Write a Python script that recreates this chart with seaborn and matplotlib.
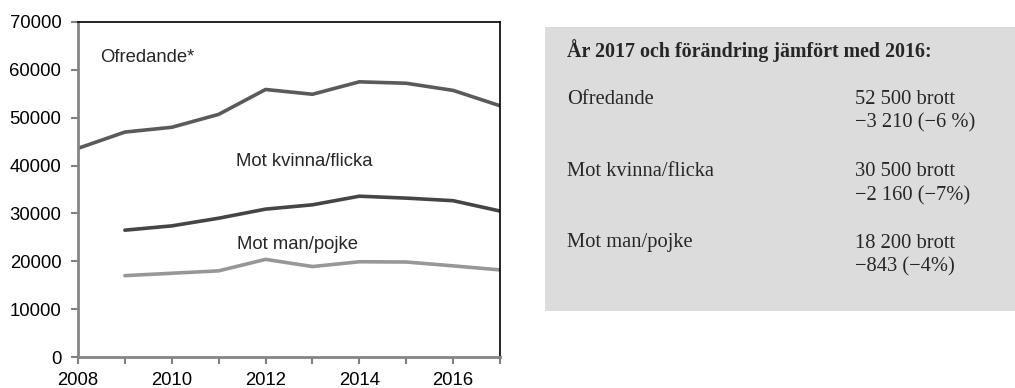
import matplotlib
matplotlib.use("Agg")
import matplotlib.pyplot as plt
from matplotlib.patches import Rectangle
import seaborn as sns
import pandas as pd

# Reported offences per year
years_all = [2008, 2009, 2010, 2011, 2012, 2013, 2014, 2015, 2016, 2017]
ofredande = [43600, 47000, 48000, 50700, 55900, 54900, 57500, 57200, 55710, 52500]

years_split = [2009, 2010, 2011, 2012, 2013, 2014, 2015, 2016, 2017]
mot_kvinna = [26500, 27400, 29000, 30900, 31800, 33600, 33200, 32660, 30500]
mot_man = [17000, 17500, 18000, 20400, 18900, 19900, 19850, 19043, 18200]

series_labels = ["Ofredande*", "Mot kvinna/flicka", "Mot man/pojke"]

# Summary panel text
summary_title = "År 2017 och förändring jämfört med 2016:"
summary_names = ["Ofredande", "Mot kvinna/flicka", "Mot man/pojke"]
summary_counts = ["52 500 brott", "30 500 brott", "18 200 brott"]
summary_changes = ["\u22123 210 (\u22126 %)", "\u22122 160 (\u22127%)", "\u2212843 (\u22124%)"]

sns.set_theme(style="white")
plt.rcParams["font.family"] = ["Liberation Sans", "DejaVu Sans"]

fig = plt.figure(figsize=(10.15, 3.88), dpi=100)
ax = fig.add_axes([78 / 1015, 1 - 357 / 388, 422 / 1015, 335 / 388])

df_o = pd.DataFrame({"year": years_all, "value": ofredande})
df_k = pd.DataFrame({"year": years_split, "value": mot_kvinna})
df_m = pd.DataFrame({"year": years_split, "value": mot_man})

sns.lineplot(data=df_o, x="year", y="value", ax=ax, color="#5a5a5a", linewidth=2.6)
sns.lineplot(data=df_k, x="year", y="value", ax=ax, color="#454545", linewidth=2.6)
sns.lineplot(data=df_m, x="year", y="value", ax=ax, color="#979797", linewidth=2.6)

ax.set_xlim(2008, 2017)
ax.set_ylim(0, 70000)
ax.set_xticks(years_all)
ax.set_xticklabels([str(y) if y % 2 == 0 else "" for y in years_all])
ax.set_yticks(range(0, 70001, 10000))
ax.set_xlabel("")
ax.set_ylabel("")
ax.tick_params(axis="both", labelsize=13.3, colors="#808080", labelcolor="black",
               direction="out", length=5, width=1.5, pad=6,
               bottom=True, left=True)
ax.tick_params(axis="y", pad=7)

for side in ["left", "bottom"]:
    ax.spines[side].set_color("#858585")
    ax.spines[side].set_linewidth(2.0)
for side in ["top", "right"]:
    ax.spines[side].set_color("black")
    ax.spines[side].set_linewidth(1.2)

ax.text(2008.47, 62600, series_labels[0], fontsize=13.3, va="center", ha="left")
ax.text(2011.37, 40900, series_labels[1], fontsize=13.3, va="center", ha="left")
ax.text(2011.39, 23500, series_labels[2], fontsize=13.3, va="center", ha="left")

# Summary panel
fig.patches.append(Rectangle((545 / 1015, 1 - 311 / 388), 1 - 545 / 1015, 284 / 388,
                             transform=fig.transFigure, facecolor="#dcdcdc",
                             edgecolor="none", zorder=0))

serif = ["Liberation Serif", "DejaVu Serif"]
x_name = 567 / 1015
x_val = 855 / 1015
fig.text(x_name, 1 - 51 / 388, summary_title, family=serif, fontweight="bold",
         fontsize=14.4, va="center", ha="left")
row_y = [99, 172, 243]
for name, cnt, chg, yy in zip(summary_names, summary_counts, summary_changes, row_y):
    fig.text(x_name, 1 - yy / 388, name, family=serif, fontsize=14.8, va="center", ha="left")
    fig.text(x_val, 1 - yy / 388, cnt, family=serif, fontsize=14.8, va="center", ha="left")
    fig.text(x_val, 1 - (yy + 24) / 388, chg, family=serif, fontsize=14.8, va="center", ha="left")

fig.savefig("out.png", dpi=100)
